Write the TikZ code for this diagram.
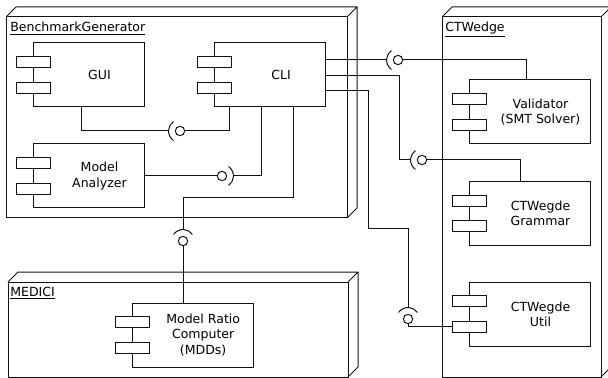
\documentclass[tikz,border=0pt]{standalone}
\usepackage{fontspec}
\setmainfont{DejaVu Sans}
\usepackage{tikz}
\definecolor{Ink}{HTML}{111111}
\tikzset{
  nodebox/.style={draw=Ink,fill=white,line width=0.75pt,inner sep=0pt,outer sep=0pt,anchor=north west},
  depth/.style={draw=Ink,line width=0.75pt},
  comp/.style={draw=Ink,fill=white,line width=0.75pt,inner sep=0pt,outer sep=0pt,minimum width=83.25pt,minimum height=48pt},
  compwide/.style={comp,minimum width=90.75pt},
  port/.style={draw=Ink,fill=white,line width=0.75pt,inner sep=0pt,outer sep=0pt,minimum width=25.5pt,minimum height=8.25pt},
  ctext/.style={align=center,inner sep=0pt,font=\fontsize{9.4pt}{11.5pt}\selectfont},
  boxlabel/.style={anchor=north west,inner sep=0pt,font=\fontsize{9.4pt}{11.5pt}\selectfont},
  ball/.style={circle,draw=Ink,fill=white,line width=0.75pt,inner sep=0pt,outer sep=0pt,minimum size=7pt},
  wire/.style={draw=Ink,line width=0.75pt}
}

\begin{document}
\begin{tikzpicture}[x=0.75pt,y=-0.75pt]
  \useasboundingbox (0,0) rectangle (608,378);
  % deployment nodes
  \node[nodebox,minimum width=255.75pt,minimum height=150.75pt] (bg) at (6,17) {};
  \node[nodebox,minimum width=119.25pt,minimum height=270pt] (ctw) at (442,17) {};
  \node[nodebox,minimum width=255pt,minimum height=71.25pt] (med) at (8,282) {};
  \foreach \n in {bg,ctw,med} {
    \draw[depth] (\n.north west) -- ++(10,-10) -- ([shift={(10,-10)}]\n.north east)
      -- ([shift={(10,-10)}]\n.south east) -- (\n.south east)
      (\n.north east) -- ++(10,-10);
  }
  \node[boxlabel] (bg-l) at ([shift={(4,5)}]bg.north west) {\underline{BenchmarkGenerator}};
  \node[boxlabel] (ctw-l) at ([shift={(3,5)}]ctw.north west) {\underline{CTWedge}};
  \node[boxlabel] (med-l) at ([shift={(2,5)}]med.north west) {\underline{MEDICI}};

  % components
  \node[comp] (gui) at (88.5,75) {};
  \node[comp] (cli) at (270,75) {};
  \node[comp] (ma) at (88.5,176) {};
  \node[compwide] (val) at (529.5,112) {};
  \node[compwide] (gram) at (529.5,213.5) {};
  \node[compwide] (util) at (529.5,314) {};
  \node[compwide] (mrc) at (192.5,335) {};
  \foreach \c in {gui,cli,ma,val,gram,util,mrc} {
    \node[port] (\c-p1) at ([yshift=9.4pt]\c.west) {};
    \node[port] (\c-p2) at ([yshift=-9.4pt]\c.west) {};
  }
  \node[ctext] (gui-t) at ([xshift=8.25pt]gui.center) {GUI};
  \node[ctext] (cli-t) at ([xshift=8.25pt]cli.center) {CLI};
  \node[ctext] (ma-t) at ([xshift=8.25pt]ma.center) {Model\\Analyzer};
  \node[ctext] (val-t) at ([xshift=8.25pt]val.center) {Validator\\(SMT Solver)};
  \node[ctext] (gram-t) at ([xshift=8.25pt]gram.center) {CTWegde\\Grammar};
  \node[ctext] (util-t) at ([xshift=8.25pt]util.center) {CTWegde\\Util};
  \node[ctext] (mrc-t) at ([xshift=8pt]mrc.center) {Model Ratio\\Computer\\(MDDs)};

  % provided / required interfaces
  \node[ball] (b-gui) at (180,131) {};
  \node[ball] (b-ma) at (222,176) {};
  \node[ball] (b-mrc) at (183,241) {};
  \node[ball] (b-val) at (398,60) {};
  \node[ball] (b-gram) at (422,160) {};
  \node[ball] (b-util) at (408,319) {};
  \foreach \b/\a in {gui/180,ma/0,mrc/90,val/180,gram/180,util/90} {
    \draw[wire] ([shift={(\a+55:8.6pt)}]b-\b.center) arc[start angle=\a+55,end angle=\a-55,radius=8.6pt];
    \coordinate (s-\b) at ([shift={(\a:8.6pt)}]b-\b.center);
  }

  % wires
  \draw[wire] ([xshift=-5.6pt]gui.south) |- (s-gui);
  \draw[wire] (b-gui) -| ([xshift=-30.75pt]cli.south);
  \draw[wire] (ma.east) -- (b-ma);
  \draw[wire] (s-ma) -| ([xshift=-6.75pt]cli.south);
  \draw[wire] ([xshift=17.25pt]cli.south) -- ++(0,91) -| (s-mrc);
  \draw[wire] (b-mrc) -- (b-mrc |- mrc.north);
  \draw[wire] ([yshift=11.25pt]cli.east) -- (s-val);
  \draw[wire] (b-val) -| ([xshift=-1.9pt]val.north);
  \draw[wire] ([yshift=-0.75pt]cli.east) -- ++(74,0) |- (s-gram);
  \draw[wire] (b-gram) -| ([xshift=-6.4pt]gram.north);
  \draw[wire] ([yshift=-12pt]cli.east) -- ++(43,0) -- ++(0,138) -| (s-util);
  \draw[wire] (b-util) |- (util-p2.west);
\end{tikzpicture}
\end{document}
